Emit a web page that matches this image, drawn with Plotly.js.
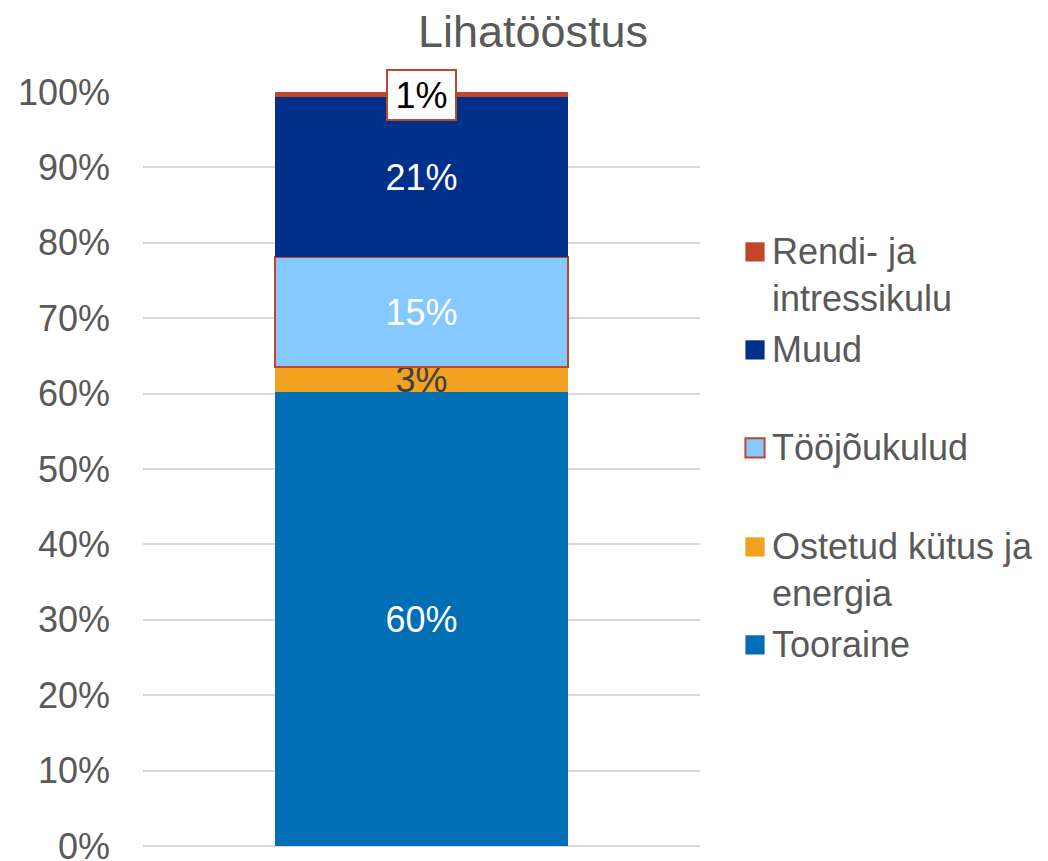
<!DOCTYPE html>
<html><head><meta charset="utf-8">
<script src="https://cdn.plot.ly/plotly-3.0.1.min.js"></script>
<style>html,body{margin:0;padding:0;background:#fff}#chart{width:1048px;height:861px}</style>
</head><body><div id="chart"></div>
<script>
const chartTitle = 'Lihatööstus';
const category = ['Lihatööstus'];
const seriesNames = ['Tooraine', 'Ostetud kütus ja<br>energia', 'Tööjõukulud', 'Muud', 'Rendi- ja<br>intressikulu'];
const tooraine = [60.2];
const kytus = [3.3];
const toojoud = [14.6];
const muud = [21.2];
const rendi = [0.7];
const yTickVals = [0, 10, 20, 30, 40, 50, 60, 70, 80, 90, 100];
const yTickText = ['0%', '10%', '20%', '30%', '40%', '50%', '60%', '70%', '80%', '90%', '100%'];

const FONT = 'Liberation Sans, Arial, sans-serif';
const GRAY = '#595959';
const colors = ['#006EB5', '#F0A220', '#85C9FF', '#00308A', '#C0462C'];
const labelColors = ['#FFFFFF', '#404040', '#FFFFFF', '#FFFFFF', '#000000'];
const seriesValues = [tooraine, kytus, toojoud, muud, rendi];
const legendIds = ['legend5', 'legend4', 'legend3', 'legend2', 'legend'];
const legendTop = [613, 515, 416, 318, 220];

const traces = seriesValues.map((vals, i) => ({
  type: 'bar',
  name: seriesNames[i],
  x: category,
  y: vals,
  legend: legendIds[i],
  marker: {
    color: colors[i],
    line: i === 2 ? {color: '#C0462C', width: 2} : {width: 0}
  },
  texttemplate: i === 4 ? '' : '%{y:.0f}%',
  textposition: 'inside',
  insidetextanchor: 'middle',
  constraintext: 'none',
  textangle: 0,
  textfont: {family: FONT, size: 36, color: labelColors[i]},
  insidetextfont: {family: FONT, size: 36, color: labelColors[i]},
  hoverinfo: 'name+y'
}));

const legendBase = (i) => ({
  visible: true,
  x: 732 / 1048, xref: 'container', xanchor: 'left',
  y: 1 - legendTop[i] / 861, yref: 'container', yanchor: 'top',
  valign: 'top',
  bgcolor: 'rgba(0,0,0,0)',
  font: {family: FONT, size: 36, color: GRAY}
});

const totalBelowTop = tooraine[0] + kytus[0] + toojoud[0] + muud[0];

const layout = {
  width: 1048, height: 861,
  showlegend: true,
  paper_bgcolor: '#FFFFFF', plot_bgcolor: '#FFFFFF',
  barmode: 'stack',
  bargap: 0.474,
  margin: {l: 143, r: 348, t: 92, b: 15},
  font: {family: FONT, color: GRAY, size: 36},
  title: {
    text: chartTitle,
    font: {family: FONT, size: 45, color: GRAY},
    x: 533 / 1048, xref: 'container', xanchor: 'center',
    y: 1 - 31 / 861, yref: 'container', yanchor: 'middle'
  },
  xaxis: {
    showticklabels: false, showgrid: false, zeroline: false, showline: false, ticks: ''
  },
  yaxis: {
    range: [0, 100],
    tickvals: yTickVals, ticktext: yTickText,
    tickfont: {family: FONT, size: 36, color: GRAY},
    showgrid: true, gridcolor: '#D9D9D9', gridwidth: 2,
    zeroline: true, zerolinecolor: '#D9D9D9', zerolinewidth: 2,
    showline: false, ticks: '', ticklabelstandoff: 32,
    ticklabeloverflow: 'allow'
  },
  annotations: [{
    x: category[0], y: totalBelowTop + rendi[0] / 2,
    xref: 'x', yref: 'y',
    text: Math.round(rendi[0]) + '%',
    showarrow: false,
    font: {family: FONT, size: 36, color: '#000000'},
    width: 61, height: 42,
    bgcolor: '#FFFFFF', bordercolor: '#C0462C', borderwidth: 2, borderpad: 3
  }]
};
legendIds.forEach((id, i) => { layout[id] = legendBase(i); });

Plotly.newPlot('chart', traces, layout, {displayModeBar: false, staticPlot: true}).then(() => {
  // enlarge the legend swatches to match the reference's bigger squares
  document.querySelectorAll('.legendpoints path').forEach(p => {
    const t = p.getAttribute('transform') || '';
    p.setAttribute('transform', t + ' translate(3,2) scale(1.6)');
    p.style.vectorEffect = 'non-scaling-stroke';
  });
});
</script>
</body></html>
